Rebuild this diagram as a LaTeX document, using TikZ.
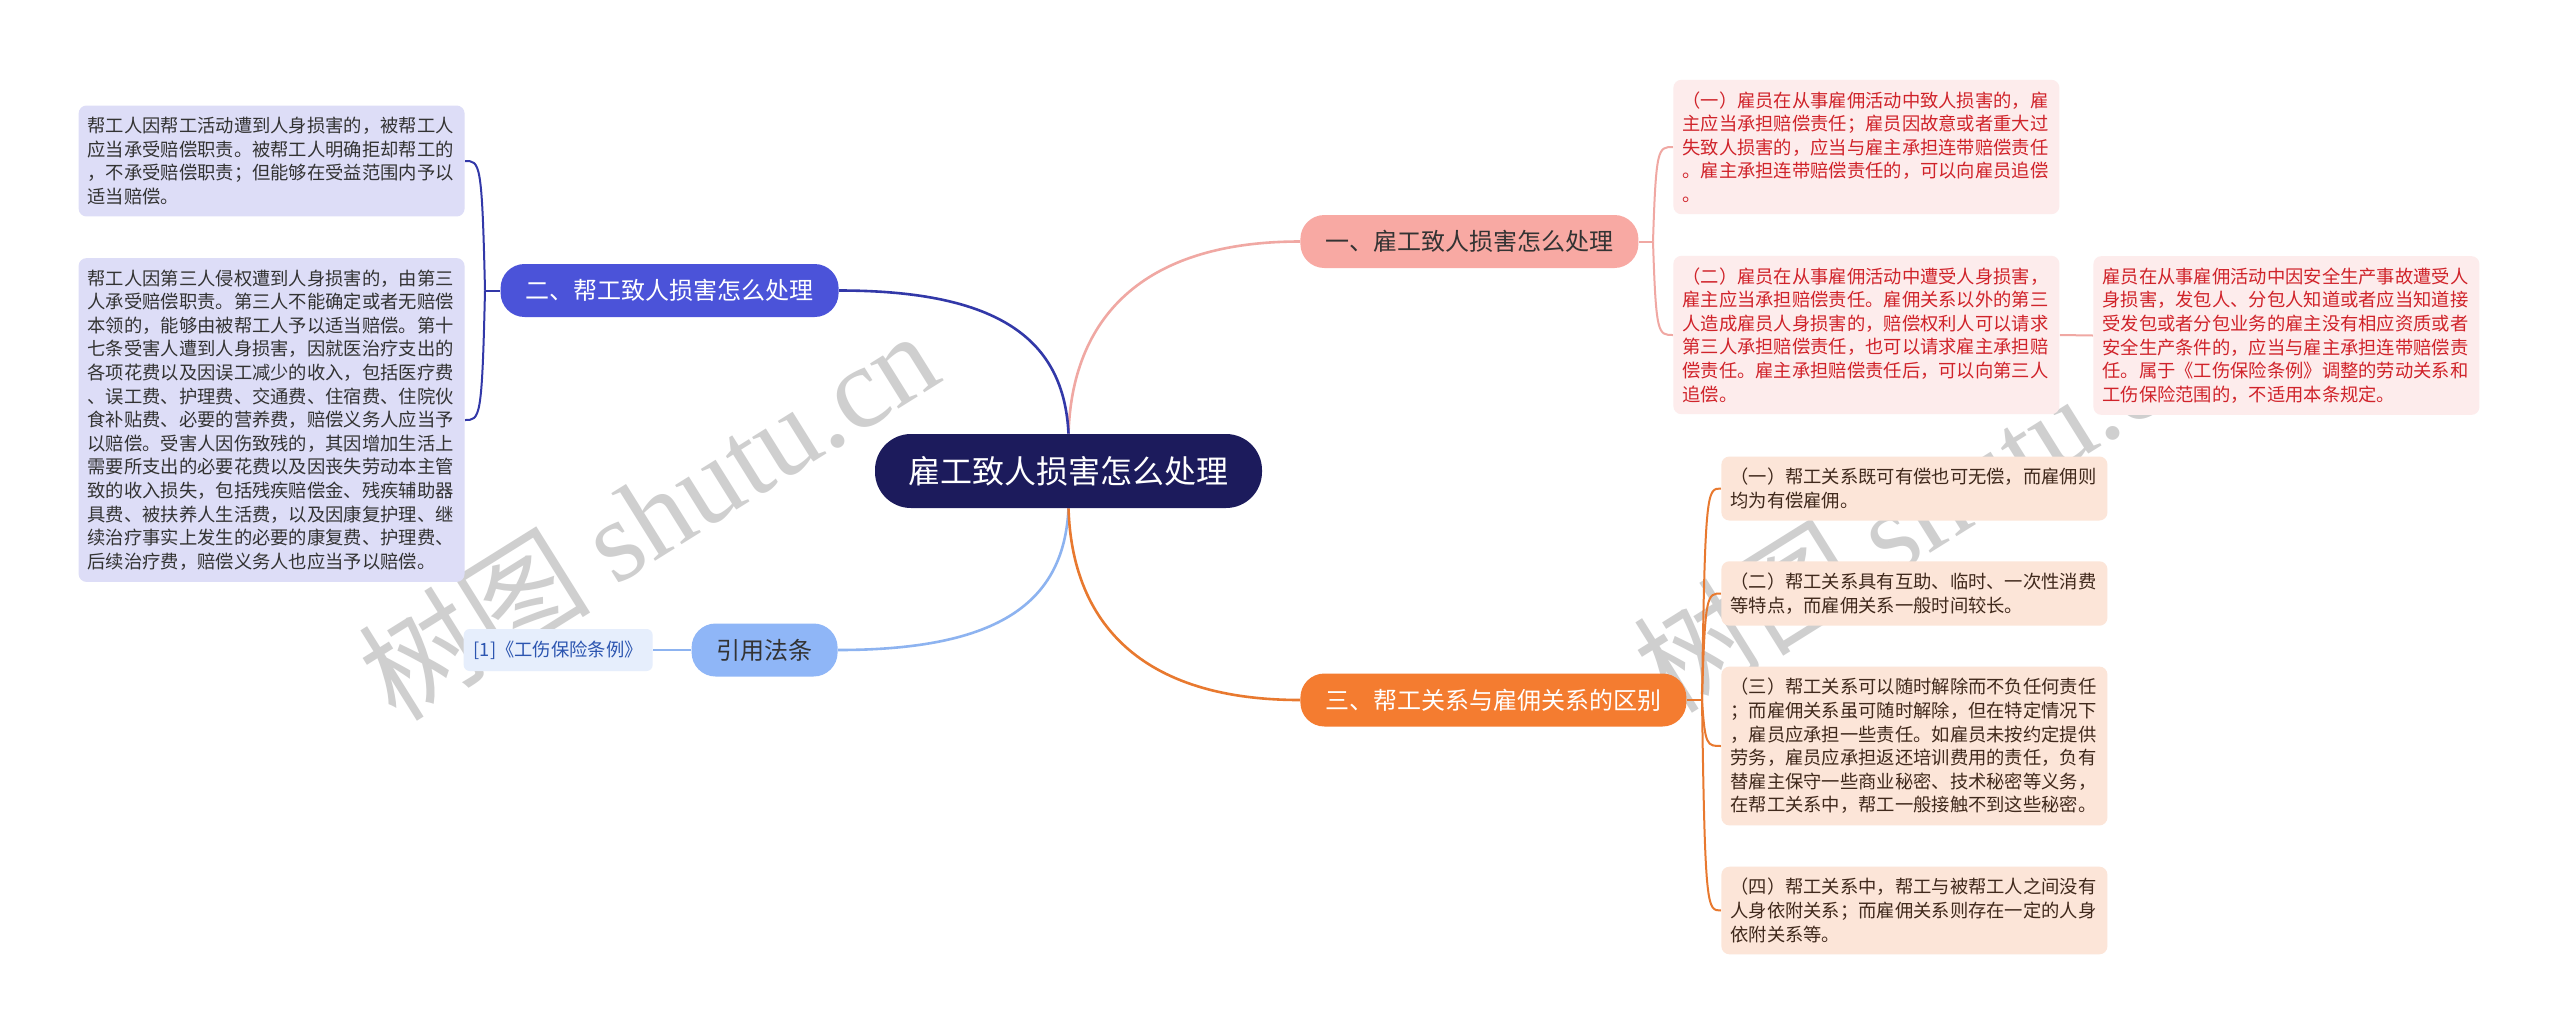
\documentclass[tikz,border=0pt]{standalone}
\usepackage{fontspec}
\setmainfont{Noto Sans CJK SC}
\newfontfamily\wmlatin{Liberation Serif}
\usetikzlibrary{backgrounds}
\definecolor{cnavy}{HTML}{1C1B5C}
\definecolor{pinkB}{HTML}{F8A9A3}
\definecolor{pinkL}{HTML}{F0A8A3}
\definecolor{pinkF}{HTML}{FDECEC}
\definecolor{pinkT}{HTML}{D0232A}
\definecolor{blueB}{HTML}{4B53D9}
\definecolor{blueL}{HTML}{3238A8}
\definecolor{lavF}{HTML}{DDDDF7}
\definecolor{lblueB}{HTML}{8FB6F7}
\definecolor{lblueL}{HTML}{8DB3F0}
\definecolor{citF}{HTML}{E6EEFC}
\definecolor{citT}{HTML}{2C55B0}
\definecolor{orangeB}{HTML}{F47C30}
\definecolor{orangeL}{HTML}{E8792F}
\definecolor{orangeF}{HTML}{FCE5D8}
\definecolor{orangeT}{HTML}{40291C}
\definecolor{darkT}{HTML}{333333}
\definecolor{wmC}{HTML}{CFCFCF}
\tikzset{
  centernode/.style={fill=cnavy, text=white, rounded corners=18pt, minimum height=37pt,
    inner xsep=16.75pt, inner ysep=0pt, font=\fontsize{16}{18}\selectfont},
  branch/.style={rounded corners=12pt, minimum height=26.5pt, inner xsep=12.5pt,
    inner ysep=0pt, font=\fontsize{12}{14}\selectfont},
  leaf/.style={rounded corners=4pt, inner xsep=4.5pt, inner ysep=5.8pt, text width=184pt,
    align=left, font=\fontsize{9.15}{11.8}\selectfont},
  pleaf/.style={leaf, fill=pinkF, text=pinkT},
  oleaf/.style={leaf, fill=orangeF, text=orangeT},
  bleaf/.style={leaf, fill=lavF, text=darkT},
  citnode/.style={fill=citF, text=citT, rounded corners=3pt, minimum height=21pt,
    inner xsep=5pt, inner ysep=0pt, font=\fontsize{9.15}{11}\selectfont},
  mainline/.style={line width=1.3pt},
  subline/.style={line width=1pt},
  wm/.style={text=wmC, font=\fontsize{58}{60}\selectfont, inner sep=0pt}
}
\begin{document}
\begin{tikzpicture}[x=0.5pt,y=-0.5pt]
\useasboundingbox (0,0) rectangle (2560,1035);
% central and main branches
\node[centernode] (c) at (1068.5,471) {雇工致人损害怎么处理};
\node[branch, fill=pinkB, text=darkT, anchor=west] (b1) at (1300,241.5) {一、雇工致人损害怎么处理};
\node[branch, fill=blueB, text=white, anchor=east] (b2) at (839,290.5) {二、帮工致人损害怎么处理};
\node[branch, fill=lblueB, text=darkT, anchor=east] (b3) at (838,650) {引用法条};
\node[branch, fill=orangeB, text=white, anchor=west] (b4) at (1300,700) {三、帮工关系与雇佣关系的区别};
% pink leaves
\node[pleaf, anchor=west] (l1) at (1673,147) {（一）雇员在从事雇佣活动中致人损害的，雇\\主应当承担赔偿责任；雇员因故意或者重大过\\失致人损害的，应当与雇主承担连带赔偿责任\\。雇主承担连带赔偿责任的，可以向雇员追偿\\。};
\node[pleaf, anchor=west] (l2) at (1673,335) {（二）雇员在从事雇佣活动中遭受人身损害，\\雇主应当承担赔偿责任。雇佣关系以外的第三\\人造成雇员人身损害的，赔偿权利人可以请求\\第三人承担赔偿责任，也可以请求雇主承担赔\\偿责任。雇主承担赔偿责任后，可以向第三人\\追偿。};
\node[pleaf, anchor=west] (l2a) at (2093,335.5) {雇员在从事雇佣活动中因安全生产事故遭受人\\身损害，发包人、分包人知道或者应当知道接\\受发包或者分包业务的雇主没有相应资质或者\\安全生产条件的，应当与雇主承担连带赔偿责\\任。属于《工伤保险条例》调整的劳动关系和\\工伤保险范围的，不适用本条规定。};
% orange leaves
\node[oleaf, anchor=west] (o1) at (1721,488.5) {（一）帮工关系既可有偿也可无偿，而雇佣则\\均为有偿雇佣。};
\node[oleaf, anchor=west] (o2) at (1721,593.5) {（二）帮工关系具有互助、临时、一次性消费\\等特点，而雇佣关系一般时间较长。};
\node[oleaf, anchor=west] (o3) at (1721,746) {（三）帮工关系可以随时解除而不负任何责任\\；而雇佣关系虽可随时解除，但在特定情况下\\，雇员应承担一些责任。如雇员未按约定提供\\劳务，雇员应承担返还培训费用的责任，负有\\替雇主保守一些商业秘密、技术秘密等义务，\\在帮工关系中，帮工一般接触不到这些秘密。};
\node[oleaf, anchor=west] (o4) at (1721,910.5) {（四）帮工关系中，帮工与被帮工人之间没有\\人身依附关系；而雇佣关系则存在一定的人身\\依附关系等。};
% lavender leaves
\node[bleaf, anchor=east] (p1) at (465,161) {帮工人因帮工活动遭到人身损害的，被帮工人\\应当承受赔偿职责。被帮工人明确拒却帮工的\\，不承受赔偿职责；但能够在受益范围内予以\\适当赔偿。};
\node[bleaf, anchor=east] (p2) at (465,420) {帮工人因第三人侵权遭到人身损害的，由第三\\人承受赔偿职责。第三人不能确定或者无赔偿\\本领的，能够由被帮工人予以适当赔偿。第十\\七条受害人遭到人身损害，因就医治疗支出的\\各项花费以及因误工减少的收入，包括医疗费\\、误工费、护理费、交通费、住宿费、住院伙\\食补贴费、必要的营养费，赔偿义务人应当予\\以赔偿。受害人因伤致残的，其因增加生活上\\需要所支出的必要花费以及因丧失劳动本主管\\致的收入损失，包括残疾赔偿金、残疾辅助器\\具费、被扶养人生活费，以及因康复护理、继\\续治疗事实上发生的必要的康复费、护理费、\\后续治疗费，赔偿义务人也应当予以赔偿。};
% citation
\node[citnode, anchor=east] (cit) at (653,650) {[1]《工伤保险条例》};
% junction points
\coordinate (j1) at (1653,241.5);
\coordinate (j2) at (485,290.5);
\coordinate (j4) at (1702,700);
\begin{scope}[on background layer]
\fill[white] (0,0) rectangle (2560,1035);
% watermarks (behind the nodes)
\node[wm, rotate=32] (wm1) at (648,514) {树图 {\wmlatin shutu.cn}};
\node[wm, rotate=32] (wm2) at (1923,506) {树图 {\wmlatin shutu.cn}};
\draw[mainline, pinkL] (c.north) .. controls (1072,320) and (1140,241.5) .. (b1.west);
\draw[mainline, blueL] (c.north) .. controls (1064,340) and (1000,290.5) .. (b2.east);
\draw[mainline, lblueL] (c.south) .. controls (1064,602) and (1000,650) .. (b3.east);
\draw[mainline, orangeL] (c.south) .. controls (1072,622) and (1140,700) .. (b4.west);
% pink sub-connectors
\draw[subline, pinkL] (b1.east) -- (j1);
\draw[subline, pinkL] (j1) .. controls (1656,147) and (1658,147) .. (l1.west);
\draw[subline, pinkL] (j1) .. controls (1656,335) and (1658,335) .. (l2.west);
\draw[subline, pinkL] (l2.east) -- (l2a.west);
% orange sub-connectors
\draw[subline, orangeL] (b4.east) -- (j4);
\draw[subline, orangeL] (j4) .. controls (1705,488.5) and (1707,488.5) .. (o1.west);
\draw[subline, orangeL] (j4) .. controls (1705,593.5) and (1707,593.5) .. (o2.west);
\draw[subline, orangeL] (j4) .. controls (1705,746) and (1707,746) .. (o3.west);
\draw[subline, orangeL] (j4) .. controls (1705,910.5) and (1707,910.5) .. (o4.west);
% blue sub-connectors
\draw[subline, blueL] (b2.west) -- (j2);
\draw[subline, blueL] (j2) .. controls (482,161) and (480,161) .. (p1.east);
\draw[subline, blueL] (j2) .. controls (482,420) and (480,420) .. (p2.east);
% citation
\draw[subline, lblueL] (b3.west) -- (cit.east);
\end{scope}
\end{tikzpicture}
\end{document}
